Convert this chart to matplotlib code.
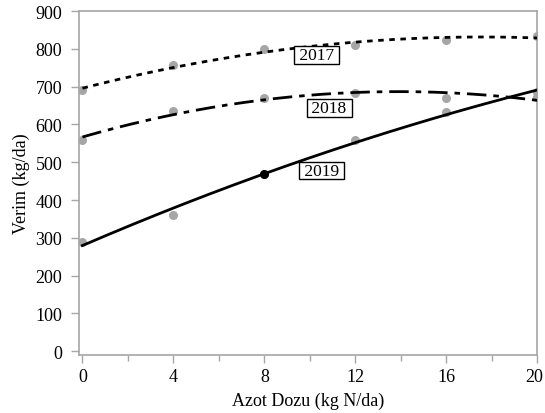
import numpy as np
import matplotlib
matplotlib.use("Agg")
import matplotlib.pyplot as plt
import matplotlib.transforms as mtransforms

plt.rcParams['font.family'] = ['Liberation Serif', 'DejaVu Serif']

doses = [0, 4, 8, 12, 16, 20]
years = ['2017', '2018', '2019']
yield_2017 = [690, 757, 800, 810, 822, 835]
yield_2018 = [560, 635, 670, 683, 670, 672]
yield_2019 = [290, 360, 470, 560, 632, 685]

series = {'2017': yield_2017, '2018': yield_2018, '2019': yield_2019}
styles = {'2017': (0, (2, 2)), '2018': (0, (7, 2.5, 2, 2.5)), '2019': '-'}
label_pos = {'2017': (10.3, 784), '2018': (10.85, 643), '2019': (10.5, 478)}

fig = plt.figure(figsize=(5.45, 4.14), dpi=100)
ax = fig.add_axes([0.145, 0.140, 0.841, 0.831])

xs = np.linspace(0, 20, 200)
for yr in years:
    vals = series[yr]
    coef = np.polyfit(doses, vals, 2)
    ax.plot(xs, np.polyval(coef, xs), color='black', lw=2.0,
            linestyle=styles[yr], zorder=3)
    ax.scatter(doses, vals, s=30, color='#a6a6a6', zorder=2)
    tx, ty = label_pos[yr]
    ax.text(tx, ty, ' ' + yr + ' ', fontsize=12.5, ha='center', va='center', zorder=5,
            bbox=dict(boxstyle='square,pad=0.05', fc='white', ec='black', lw=1))

# highlighted point on 2019
ax.scatter([doses[2]], [yield_2019[2]], s=30, color='black', zorder=4)

ax.set_xlim(-0.15, 20)
ax.set_ylim(-10, 900)
ax.set_xticks(range(0, 21, 4))
ax.set_xticks(range(2, 21, 4), minor=True)
ax.set_yticks(range(0, 901, 100))

for s in ax.spines.values():
    s.set_color('#a6a6a6')
    s.set_linewidth(1.2)
ax.tick_params(axis='both', which='both', color='#a6a6a6', width=1,
               labelsize=13, direction='out')
ax.tick_params(axis='x', which='major', length=6, pad=3)
ax.tick_params(axis='x', which='minor', length=4)
ax.tick_params(axis='y', length=6, pad=6)

# keep the last x label inside the figure like the original
last = ax.get_xticklabels()[-1]
last.set_transform(last.get_transform() +
                   mtransforms.ScaledTranslation(-3 / 100, 0, fig.dpi_scale_trans))

ax.set_xlabel('Azot Dozu (kg N/da)', fontsize=13, labelpad=5)
ax.set_ylabel('Verim (kg/da)', fontsize=13, labelpad=4)

fig.savefig('out.png', dpi=100)
